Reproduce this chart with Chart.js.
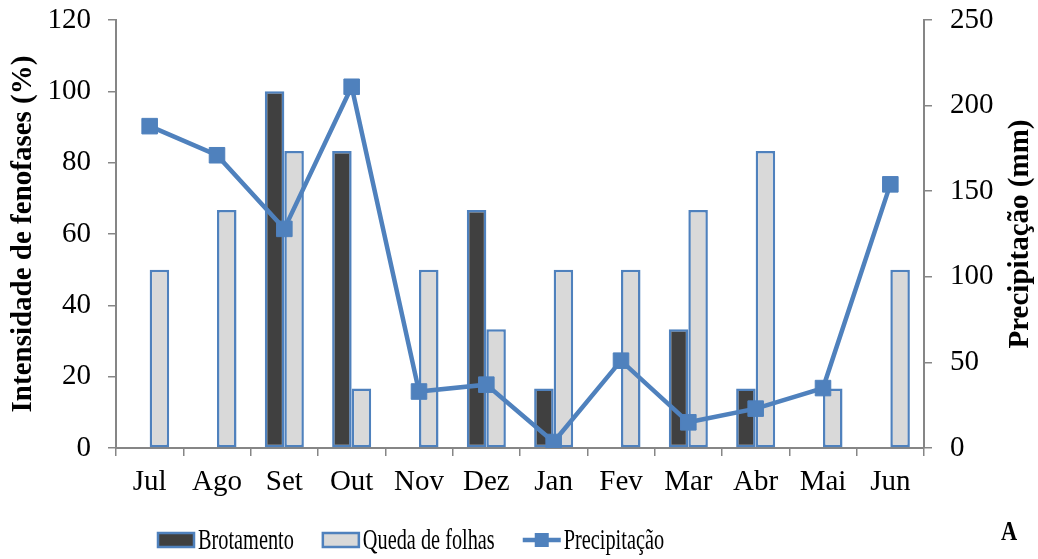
<!DOCTYPE html>
<html lang="pt">
<head>
    <meta charset="UTF-8">
    <title>Fenofases e precipitação</title>
    <script src="https://cdn.jsdelivr.net/npm/chart.js"></script>
    <style>
        body {
            margin: 0;
            background: #ffffff;
        }
        #chart {
            display: block;
        }
    </style>
</head>
<body>
    <canvas id="chart" width="1038" height="559"></canvas>
    <script>
        // Months (Jul -> Jun)
        const months = ['Jul', 'Ago', 'Set', 'Out', 'Nov', 'Dez', 'Jan', 'Fev', 'Mar', 'Abr', 'Mai', 'Jun'];

        // Intensidade de fenofases (%)
        const brotamento = [0, 0, 100, 83.3, 0, 66.7, 16.7, 0, 33.3, 16.7, 0, 0];
        const quedaFolhas = [50, 66.7, 83.3, 16.7, 50, 33.3, 50, 50, 66.7, 83.3, 16.7, 50];

        // Precipitação (mm)
        const precipitacao = [188, 171, 128, 211, 33, 37, 3.5, 51, 15, 23, 35, 154];

        // Axis ticks
        const leftTicks = { min: 0, max: 120, step: 20 };
        const rightTicks = { min: 0, max: 250, step: 50 };

        const serif = "'Liberation Serif', 'Times New Roman', serif";
        const blue = '#4F81BD';
        const axisGray = '#868686';

        // Fixed axis sizes so the plot area lands where the original has it
        function fixVertical(width) {
            return function (scale) {
                scale.width = width;
                scale.paddingTop = 0;
                scale.paddingBottom = 0;
            };
        }

        // Draws the legend at the bottom, the right axis title and the "A" mark
        const extrasPlugin = {
            id: 'extras',
            afterDraw(chart) {
                const ctx = chart.ctx;
                const area = chart.chartArea;
                const midY = (area.top + area.bottom) / 2;

                // Right axis title, reading bottom to top
                ctx.save();
                ctx.font = 'bold 29px ' + serif;
                ctx.fillStyle = '#000';
                ctx.textAlign = 'center';
                ctx.textBaseline = 'middle';
                ctx.translate(1021, midY);
                ctx.rotate(-Math.PI / 2);
                ctx.fillText('Precipitação (mm)', 0, 0);
                ctx.restore();

                // Legend
                const legendY = 540;
                let x = 157;
                chart.data.datasets.forEach(ds => {
                    ctx.save();
                    if (ds.type === 'line') {
                        ctx.strokeStyle = ds.borderColor;
                        ctx.lineWidth = 4.5;
                        ctx.beginPath();
                        ctx.moveTo(x, legendY);
                        ctx.lineTo(x + 38, legendY);
                        ctx.stroke();
                        ctx.fillStyle = ds.borderColor;
                        ctx.fillRect(x + 19 - 7, legendY - 7, 14, 14);
                    } else {
                        ctx.fillStyle = ds.backgroundColor;
                        ctx.fillRect(x + 1, legendY - 7, 36, 14);
                        ctx.strokeStyle = ds.borderColor;
                        ctx.lineWidth = 2.5;
                        ctx.strokeRect(x + 1, legendY - 7, 36, 14);
                    }
                    ctx.restore();

                    // condensed legend text
                    ctx.save();
                    ctx.font = '29px ' + serif;
                    ctx.fillStyle = '#000';
                    ctx.textBaseline = 'middle';
                    ctx.textAlign = 'left';
                    const squeeze = 0.7;
                    const w = ctx.measureText(ds.label).width * squeeze;
                    ctx.translate(x + 41, legendY + 1);
                    ctx.scale(squeeze, 1);
                    ctx.fillText(ds.label, 0, 0);
                    ctx.restore();
                    x += 41 + w + 28;
                });

                // Panel letter
                ctx.save();
                ctx.font = 'bold 28px ' + serif;
                ctx.fillStyle = '#000';
                ctx.textAlign = 'center';
                ctx.textBaseline = 'middle';
                ctx.translate(1009, 533);
                ctx.scale(0.8, 1);
                ctx.fillText('A', 0, 0);
                ctx.restore();
            }
        };

        const ctx = document.getElementById('chart').getContext('2d');
        new Chart(ctx, {
            data: {
                labels: months,
                datasets: [
                    {
                        type: 'bar',
                        label: 'Brotamento',
                        data: brotamento,
                        backgroundColor: '#404040',
                        borderColor: blue,
                        borderWidth: 2.5,
                        borderSkipped: false,
                        categoryPercentage: 0.58,
                        barPercentage: 1,
                        yAxisID: 'y',
                        order: 1
                    },
                    {
                        type: 'bar',
                        label: 'Queda de folhas',
                        data: quedaFolhas,
                        backgroundColor: '#D9D9D9',
                        borderColor: blue,
                        borderWidth: 2.5,
                        borderSkipped: false,
                        categoryPercentage: 0.58,
                        barPercentage: 1,
                        yAxisID: 'y',
                        order: 1
                    },
                    {
                        type: 'line',
                        label: 'Precipitação',
                        data: precipitacao,
                        borderColor: blue,
                        backgroundColor: blue,
                        borderWidth: 4.5,
                        tension: 0,
                        pointStyle: 'rect',
                        pointRadius: 11,
                        pointBorderWidth: 1,
                        pointBackgroundColor: blue,
                        pointBorderColor: blue,
                        yAxisID: 'y1',
                        order: 0
                    }
                ]
            },
            options: {
                responsive: false,
                animation: false,
                layout: {
                    padding: { top: 20, bottom: 0, left: 0, right: 0 }
                },
                plugins: {
                    legend: { display: false },
                    tooltip: { enabled: false }
                },
                scales: {
                    x: {
                        offset: true,
                        grid: {
                            offset: true,
                            drawOnChartArea: false,
                            tickLength: 8,
                            color: axisGray,
                            lineWidth: 1.5
                        },
                        border: { color: axisGray, width: 2 },
                        ticks: {
                            color: '#000',
                            font: { family: serif, size: 29 },
                            padding: 9,
                            maxRotation: 0
                        },
                        afterFit(scale) { scale.height = 111; }
                    },
                    y: {
                        position: 'left',
                        min: leftTicks.min,
                        max: leftTicks.max,
                        grid: {
                            drawOnChartArea: false,
                            tickLength: 8,
                            color: axisGray,
                            lineWidth: 1.5
                        },
                        border: { color: axisGray, width: 2 },
                        ticks: {
                            stepSize: leftTicks.step,
                            color: '#000',
                            font: { family: serif, size: 29 },
                            padding: 17
                        },
                        title: {
                            display: true,
                            text: 'Intensidade de fenofases (%)',
                            color: '#000',
                            font: { family: serif, size: 29, weight: 'bold' },
                            padding: { top: 6, bottom: 0 }
                        },
                        afterFit: fixVertical(116)
                    },
                    y1: {
                        position: 'right',
                        min: rightTicks.min,
                        max: rightTicks.max,
                        grid: {
                            drawOnChartArea: false,
                            tickLength: 8,
                            color: axisGray,
                            lineWidth: 1.5
                        },
                        border: { color: axisGray, width: 2 },
                        ticks: {
                            stepSize: rightTicks.step,
                            color: '#000',
                            font: { family: serif, size: 29 },
                            padding: 18
                        },
                        afterFit: fixVertical(114)
                    }
                }
            },
            plugins: [extrasPlugin]
        });
    </script>
</body>
</html>
